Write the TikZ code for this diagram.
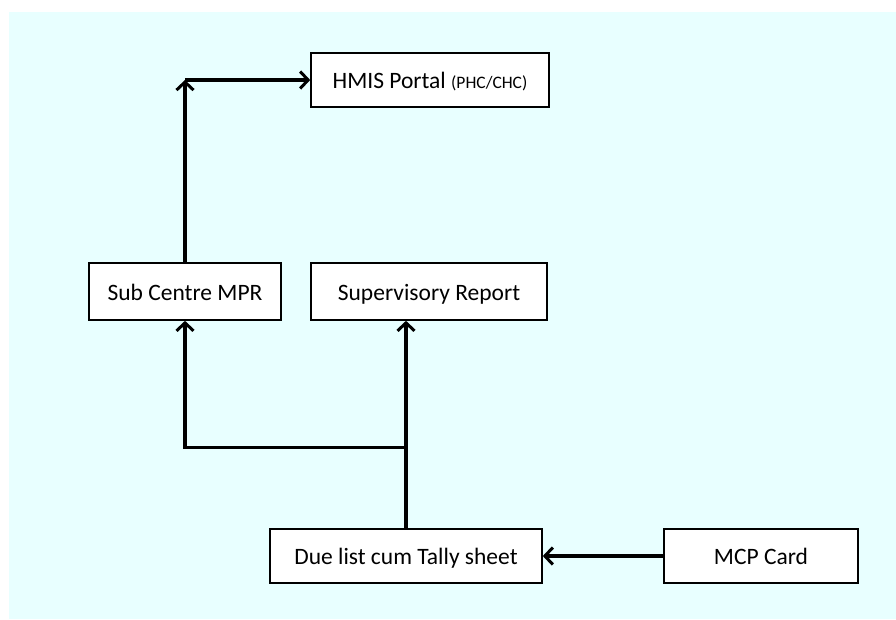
\documentclass[tikz,border=0pt]{standalone}
\usepackage{fontspec}
\setmainfont{Carlito}
\usepackage{xcolor}
\usetikzlibrary{positioning,arrows.meta,calc}
\definecolor{pageBg}{HTML}{E8FFFF}
\tikzset{
  box/.style={draw=black, line width=1.6pt, fill=white, align=center,
              font=\fontsize{23.5}{28}\selectfont, inner sep=2pt,
              text height=20pt, text depth=3pt,
              minimum height=54pt},
  flow/.style={-{Straight Barb[length=8pt,width=17pt,line width=3pt]},
               line width=3.2pt},
}
\newcommand{\smalltag}[1]{{\fontsize{17.5}{20}\selectfont #1}}

\begin{document}
\begin{tikzpicture}[x=1pt, y=-1pt]
\useasboundingbox (0,0) rectangle (896,619);
\fill[pageBg] (9,12) rectangle (896,619);

\node[box, minimum width=238pt] (hmis) at (430,80)
  {HMIS Portal \smalltag{(PHC/CHC)}};
\node[box, minimum width=192pt, minimum height=57pt] (sub) at (185,291.5)
  {Sub Centre MPR};
\node[box, minimum width=236pt, minimum height=57pt] (sup) at (429,291.5)
  {Supervisory Report};
\node[box, minimum width=272pt] (due) at (406,556)
  {Due list cum Tally sheet};
\node[box, minimum width=194pt] (mcp) at (761,556) {MCP Card};

\coordinate (corner) at (sub.north |- hmis.west);
\coordinate (split) at ($(due.north)+(0,-81)$);

\draw[flow] (sub.north) -- (corner);
\draw[flow] (corner) -- (hmis.west);
\draw[flow] (due.north) -- (due.north |- sup.south);
\draw[flow] (split) -| (sub.south);
\draw[flow] (mcp.west) -- (due.east);

\end{tikzpicture}
\end{document}
